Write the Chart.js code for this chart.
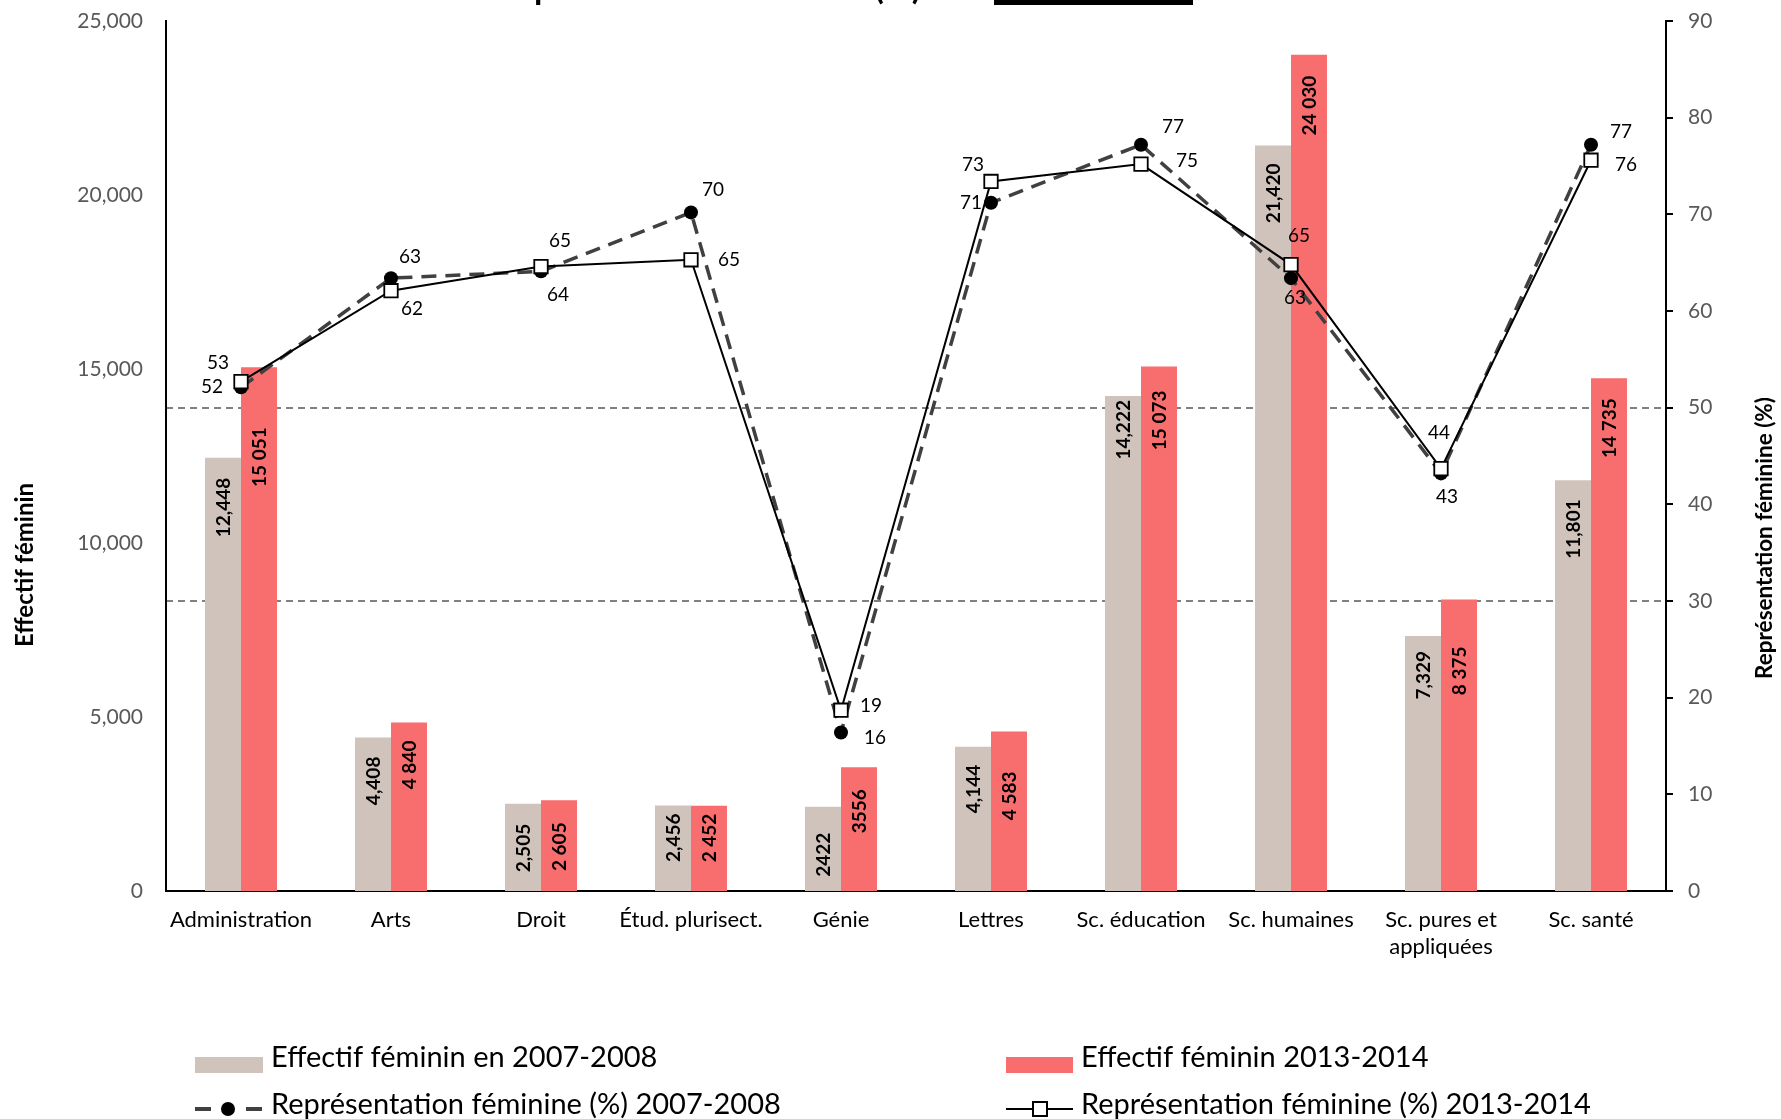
<!DOCTYPE html>
<html>
<head>
<meta charset="utf-8">
<script src="https://cdn.jsdelivr.net/npm/chart.js@4.4.0/dist/chart.umd.min.js"></script>
<style>
body { margin: 0; background: #fff; }
canvas { display: block; }
</style>
</head>
<body>
<canvas id="canvas" width="1781" height="1119"></canvas>
<script>
let categories = ['Administration', 'Arts', 'Droit', 'Étud. plurisect.', 'Génie', 'Lettres', 'Sc. éducation', 'Sc. humaines', ['Sc. pures et', 'appliquées'], 'Sc. santé'];
let effectif2007 = [12448, 4408, 2505, 2456, 2422, 4144, 14222, 21420, 7329, 11801];
let effectif2013 = [15051, 4840, 2605, 2452, 3556, 4583, 15073, 24030, 8375, 14735];
let repr2007 = [52.1, 63.4, 64.1, 70.2, 16.4, 71.2, 77.2, 63.4, 43.2, 77.2];
let repr2013 = [52.7, 62.1, 64.6, 65.3, 18.7, 73.4, 75.2, 64.8, 43.7, 75.6];
// bar labels as printed (the two years are not formatted the same way)
let text2007 = ['12,448', '4,408', '2,505', '2,456', '2422', '4,144', '14,222', '21,420', '7,329', '11,801'];
let text2013 = ['15 051', '4 840', '2 605', '2 452', '3556', '4 583', '15 073', '24 030', '8 375', '14 735'];
let leftTicks = [0, 25000, 5000];
let rightTicks = [0, 90, 10];
let refLines = [30, 50];

// label placement (px), not data
let barPad2007 = [20, 19, 20, 8, 26, 18, 4, 18, 15, 19];
let barPad2013 = [60, 18, 22, 8, 22, 40, 24, 21, 47, 20];
let off2007 = [[-29, 0], [19, -21], [17, 24], [22, -23], [34, 5], [-20, 0], [32, -18], [4, 20], [6, 23], [30, -13]];
let off2013 = [[-23, -19], [21, 18], [19, -26], [38, 0], [30, -4], [-18, -17], [46, -3], [8, -29], [-2, -36], [35, 5]];

let ctx = document.getElementById('canvas').getContext('2d');
let FONT = 'Lato, "Open Sans", sans-serif';

let extras = {
    id: 'extras',
    afterDatasetsDraw(chart) {
        let c = chart.ctx;
        c.save();
        // values inside the bars, rotated
        c.font = 'bold 19px ' + FONT;
        c.fillStyle = '#000';
        c.textAlign = 'right';
        c.textBaseline = 'middle';
        [[0, text2007, barPad2007], [1, text2013, barPad2013]].forEach(([idx, txt, pad]) => {
            chart.getDatasetMeta(idx).data.forEach((bar, i) => {
                c.save();
                c.translate(bar.x, bar.y + pad[i]);
                c.rotate(-Math.PI / 2);
                c.fillText(txt[i], 0, 1);
                c.restore();
            });
        });
        // percentages next to the markers
        c.font = '19px ' + FONT;
        c.textAlign = 'center';
        [[2, repr2007, off2007], [3, repr2013, off2013]].forEach(([idx, vals, off]) => {
            chart.getDatasetMeta(idx).data.forEach((pt, i) => {
                c.fillText(Math.round(vals[i]), pt.x + off[i][0], pt.y + off[i][1]);
            });
        });
        c.restore();
    },
    afterDraw(chart) {
        let c = chart.ctx;
        c.save();
        // title, cut off by the top edge
        c.font = 'bold 34px ' + FONT;
        c.fillStyle = '#000';
        c.textAlign = 'left';
        c.textBaseline = 'alphabetic';
        let title = 'Représentation féminine (%)';
        c.fillText(title, 534 - c.measureText('Re').width, -1);
        c.fillRect(994, 0, 199, 5);

        // axis titles
        c.textAlign = 'center';
        c.textBaseline = 'middle';
        c.font = 'bold 24px ' + FONT;
        c.save();
        c.translate(25, 565);
        c.rotate(-Math.PI / 2);
        c.fillText('Effectif féminin', 0, 0);
        c.restore();
        c.font = 'bold 22.5px ' + FONT;
        c.save();
        c.translate(1765, 538);
        c.rotate(-Math.PI / 2);
        c.fillText('Représentation féminine (%)', 0, 0);
        c.restore();

        // legend
        c.font = '29px ' + FONT;
        c.textAlign = 'left';
        c.fillStyle = '#d0c3bb';
        c.fillRect(195, 1057, 68, 16);
        c.fillStyle = '#f86d6d';
        c.fillRect(1006, 1057, 67, 16);
        c.fillStyle = '#000';
        c.fillText('Effectif féminin en 2007-2008', 271, 1058);
        c.fillText('Effectif féminin 2013-2014', 1081, 1058);
        c.fillText('Représentation féminine (%) 2007-2008', 271, 1105);
        c.fillText('Représentation féminine (%) 2013-2014', 1081, 1105);

        c.strokeStyle = '#404040';
        c.lineWidth = 4;
        c.beginPath();
        c.moveTo(195, 1109); c.lineTo(211, 1109);
        c.moveTo(246, 1109); c.lineTo(262, 1109);
        c.stroke();
        c.fillStyle = '#000';
        c.beginPath();
        c.arc(228, 1109, 7, 0, Math.PI * 2);
        c.fill();

        c.strokeStyle = '#000';
        c.lineWidth = 2;
        c.beginPath();
        c.moveTo(1006, 1109); c.lineTo(1073, 1109);
        c.stroke();
        c.fillStyle = '#fff';
        c.fillRect(1033, 1102, 14, 14);
        c.strokeRect(1033, 1102, 14, 14);
        c.restore();
    }
};

let myChart = new Chart(ctx, {
    type: 'bar',
    data: {
        labels: categories,
        datasets: [{
            label: 'Effectif féminin en 2007-2008',
            data: effectif2007,
            backgroundColor: '#d0c3bb',
            yAxisID: 'y',
            order: 3,
        }, {
            label: 'Effectif féminin 2013-2014',
            data: effectif2013,
            backgroundColor: '#f86d6d',
            yAxisID: 'y',
            order: 4,
        }, {
            type: 'line',
            label: 'Représentation féminine (%) 2007-2008',
            data: repr2007,
            yAxisID: 'y1',
            borderColor: '#404040',
            borderWidth: 3.5,
            borderDash: [15, 9],
            pointStyle: 'circle',
            pointRadius: 7,
            pointBackgroundColor: '#000',
            pointBorderColor: '#000',
            pointBorderWidth: 0,
            tension: 0,
            order: 2,
        }, {
            type: 'line',
            label: 'Représentation féminine (%) 2013-2014',
            data: repr2013,
            yAxisID: 'y1',
            borderColor: '#000',
            borderWidth: 2,
            pointStyle: 'rect',
            pointRadius: 9.5,
            pointBackgroundColor: '#fff',
            pointBorderColor: '#000',
            pointBorderWidth: 1.8,
            tension: 0,
            order: 1,
        }],
    },
    options: {
        responsive: false,
        animation: false,
        layout: { padding: { top: 21, left: 0, right: 0, bottom: 0 } },
        datasets: {
            bar: { categoryPercentage: 0.48, barPercentage: 1.0 },
        },
        plugins: {
            legend: { display: false },
            tooltip: { enabled: false },
        },
        scales: {
            x: {
                grid: { display: false, drawTicks: false },
                border: { display: true, color: '#000', width: 2 },
                ticks: {
                    font: { family: FONT, size: 22, lineHeight: 1.2 },
                    color: '#000',
                    padding: 16,
                    maxRotation: 0,
                    autoSkip: false,
                },
                afterFit: s => { s.height = 228; },
            },
            y: {
                position: 'left',
                min: leftTicks[0],
                max: leftTicks[1],
                grid: { display: false, drawTicks: false },
                border: { display: true, color: '#000', width: 2 },
                ticks: {
                    stepSize: leftTicks[2],
                    font: { family: FONT, size: 21 },
                    color: '#595959',
                    padding: 23,
                    callback: v => v.toLocaleString('en-US'),
                },
                afterFit: s => { s.width = 166; s.paddingTop = 0; s.paddingBottom = 0; },
            },
            y1: {
                position: 'right',
                min: rightTicks[0],
                max: rightTicks[1],
                grid: {
                    display: true,
                    drawOnChartArea: true,
                    color: c => refLines.includes(c.tick.value) ? '#808080' : 'rgba(0,0,0,0)',
                    lineWidth: 2,
                    tickColor: '#000',
                    tickLength: 7,
                    tickWidth: 2,
                },
                border: { display: true, color: '#000', width: 2, dash: [7, 5] },
                ticks: {
                    stepSize: rightTicks[2],
                    font: { family: FONT, size: 21 },
                    color: '#595959',
                    padding: 15,
                },
                afterFit: s => { s.width = 115; s.paddingTop = 0; s.paddingBottom = 0; },
            },
        },
    },
    plugins: [extras],
});
</script>
</body>
</html>
